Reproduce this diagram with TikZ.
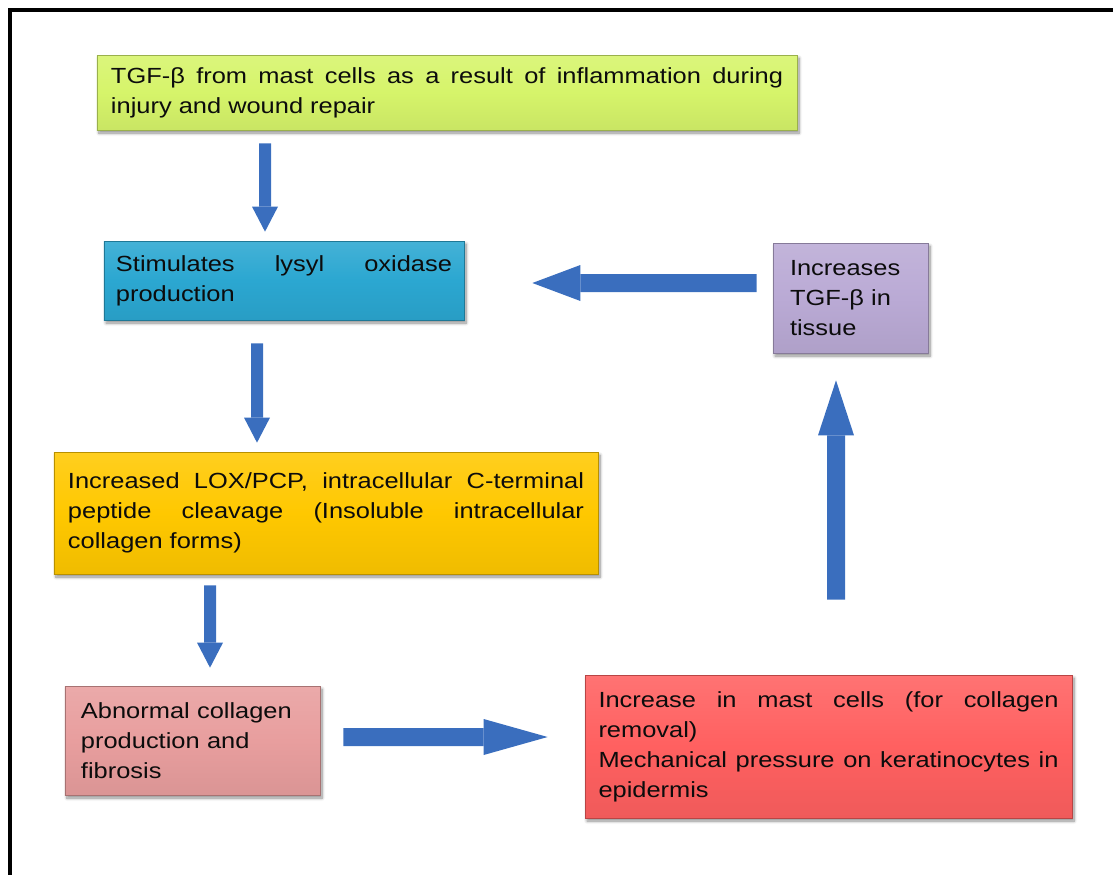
\documentclass[tikz,border=0pt]{standalone}
\usepackage{fontspec}
\setmainfont{Liberation Sans}[FakeStretch=1.16]
\usetikzlibrary{arrows.meta,shadows.blur}

\definecolor{limebox}{RGB}{214,244,106}
\definecolor{tealbox}{RGB}{43,167,209}
\definecolor{lilacbox}{RGB}{186,170,213}
\definecolor{goldbox}{RGB}{255,200,0}
\definecolor{rosebox}{RGB}{232,158,158}
\definecolor{redbox}{RGB}{255,96,96}
\definecolor{flowblue}{RGB}{58,110,190}
\definecolor{inktext}{RGB}{12,12,12}

% no hyphenation inside the boxes
\newcommand{\nohyph}{\hyphenpenalty=10000\relax\exhyphenpenalty=10000\relax\tolerance=10000\relax}

\begin{document}
\begin{tikzpicture}[x=1bp,y=-1bp,
  box/.style={rectangle, draw=#1!72!black, line width=0.7bp,
    top color=#1!88!white, bottom color=#1!94!black, middle color=#1,
    inner sep=0pt, text=inktext,
    blur shadow={shadow xshift=2bp, shadow yshift=-3bp,
      shadow blur radius=3bp, shadow blur steps=8, shadow opacity=45},
    font=\fontsize{22}{30}\selectfont, execute at begin node=\nohyph},
  jbox/.style={box=#1, align=justify},
  lbox/.style={box=#1, align=left},
  thinflow/.style={draw=flowblue, line width=12bp,
    -{Triangle[length=25bp,width=26bp,line width=0pt]}},
  wideflow/.style={draw=flowblue, line width=18bp,
    -{Triangle[length=#1,width=36bp,line width=0pt]}}]

% page area and the open frame (top and left edges only)
\useasboundingbox (0,0) rectangle (1113,875);
\draw[line width=4.5bp, line join=miter] (9.75,875) -- (9.75,9.75) -- (1113,9.75);

% boxes
\node[jbox=limebox, minimum width=700bp, minimum height=75bp, text width=672bp]
  (tgf) at (447,92.5)
  {TGF-β from mast cells as a result of inflammation during\linebreak injury and wound repair};

\node[jbox=tealbox, minimum width=360bp, minimum height=79bp, text width=336bp]
  (lox) at (284,280.5)
  {Stimulates lysyl oxidase\linebreak production};

\node[lbox=lilacbox, minimum width=155bp, minimum height=110bp, text width=121bp]
  (inc) at (850.5,298)
  {Increases\\TGF-β in\\tissue};

\node[jbox=goldbox, minimum width=544bp, minimum height=122bp, text width=516bp]
  (pcp) at (326,513)
  {Increased LOX/PCP, intracellular C-terminal\linebreak peptide cleavage (Insoluble intracellular\linebreak collagen forms)};

\node[lbox=rosebox, minimum width=255bp, minimum height=109bp, text width=223bp]
  (fib) at (192.5,740.5)
  {Abnormal collagen\\production and\\fibrosis};

\node[jbox=redbox, minimum width=487bp, minimum height=143bp, text width=460bp]
  (mast) at (828.5,746.5)
  {Increase in mast cells (for collagen\linebreak removal)\newline Mechanical pressure on keratinocytes in\linebreak epidermis};

% flow arrows
\draw[thinflow] ([xshift=-182bp,yshift=-13bp]tgf.south) -- ([xshift=-19bp,yshift=9bp]lox.north);
\draw[thinflow] ([xshift=-27bp,yshift=-23bp]lox.south) -- ([xshift=-69bp,yshift=9bp]pcp.north);
\draw[thinflow] ([xshift=-116bp,yshift=-11bp]pcp.south) -- ([xshift=17.5bp,yshift=18bp]fib.north);
\draw[wideflow=64bp] ([xshift=23bp,yshift=3.5bp]fib.east) -- ([xshift=-37bp,yshift=9.5bp]mast.west);
\draw[wideflow=55bp] ([xshift=7.5bp,yshift=75bp]mast.north) -- ([xshift=-14.5bp,yshift=-27bp]inc.south);
\draw[wideflow=48bp] ([xshift=-16bp,yshift=15bp]inc.west) -- ([xshift=68bp,yshift=-2.5bp]lox.east);
\end{tikzpicture}
\end{document}
